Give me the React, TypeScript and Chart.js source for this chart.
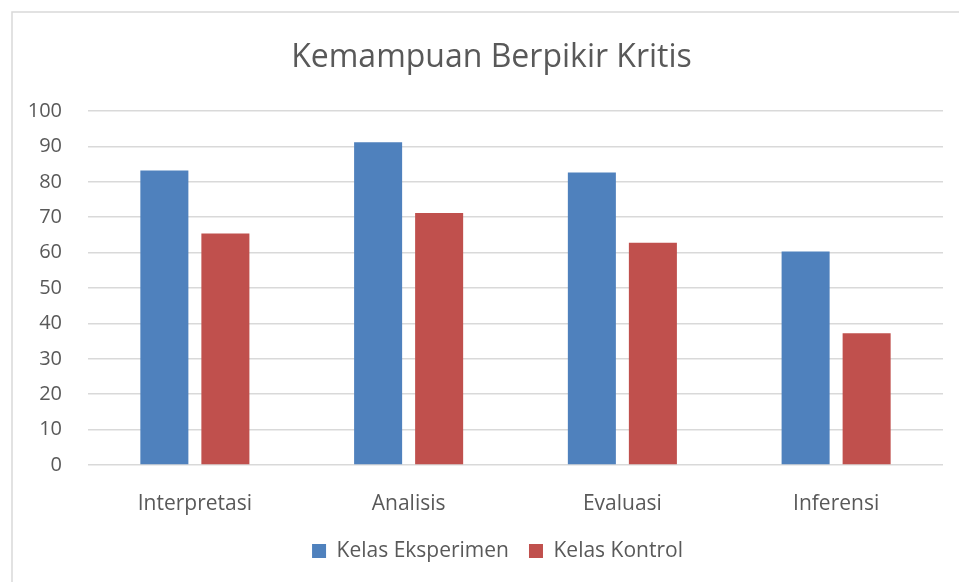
import React, { useEffect, useRef } from "react";
import { Chart, registerables } from "chart.js";

Chart.register(...registerables);

const categories = ["Interpretasi", "Analisis", "Evaluasi", "Inferensi"];
const kelasEksperimen = [83.2, 91.2, 82.6, 60.3];
const kelasKontrol = [65.4, 71.2, 62.8, 37.2];
const seriesNames = ["Kelas Eksperimen", "Kelas Kontrol"];
const chartTitle = "Kemampuan Berpikir Kritis";

const FONT = "'Open Sans', 'Noto Sans', sans-serif";
const GRAY = "#595959";

const borderPlugin = {
  id: "outerBorder",
  beforeDraw(chart: any) {
    const ctx = chart.ctx;
    ctx.save();
    ctx.fillStyle = "#ffffff";
    ctx.fillRect(0, 0, chart.width, chart.height);
    ctx.strokeStyle = "#D9D9D9";
    ctx.lineWidth = 1.5;
    ctx.beginPath();
    ctx.moveTo(12, chart.height);
    ctx.lineTo(12, 12);
    ctx.lineTo(chart.width, 12);
    ctx.stroke();
    ctx.restore();
  },
};

// the original chart frame extends past the right edge, so title and legend are centred a bit to the right
const shiftPlugin = {
  id: "shiftBoxes",
  afterLayout(chart: any) {
    if (chart.titleBlock) {
      chart.titleBlock.left += 14;
      chart.titleBlock.right += 14;
    }
    if (chart.legend) {
      chart.legend.left += 20;
      chart.legend.right += 20;
    }
  },
};

export default function App() {
  const ref = useRef<HTMLCanvasElement>(null);
  useEffect(() => {
    document.body.style.margin = "0";
    const chart = new Chart(ref.current!, {
      type: "bar",
      data: {
        labels: categories,
        datasets: [
          {
            label: seriesNames[0],
            data: kelasEksperimen,
            backgroundColor: "#4F81BD",
          },
          {
            label: seriesNames[1],
            data: kelasKontrol,
            backgroundColor: "#C0504D",
          },
        ],
      },
      options: {
        animation: false,
        responsive: false,
        devicePixelRatio: 1,
        layout: { padding: { top: 0, left: 12, right: 16, bottom: 10.5 } },
        datasets: {
          bar: { categoryPercentage: 0.571, barPercentage: 0.787 },
        },
        plugins: {
          title: {
            display: true,
            text: chartTitle,
            color: GRAY,
            font: { family: FONT, size: 32, weight: "normal", lineHeight: 1.2 },
            padding: { top: 38.8, bottom: 33.8 },
          },
          legend: {
            position: "bottom",
            labels: {
              color: GRAY,
              font: { family: FONT, size: 21 },
              boxWidth: 14,
              boxHeight: 14,
              padding: 20,
            },
          },
          tooltip: { enabled: false },
        },
        scales: {
          x: {
            grid: { display: false },
            border: { display: false },
            ticks: {
              color: GRAY,
              font: { family: FONT, size: 21 },
              padding: 18.4,
            },
            afterFit: (s: any) => {
              s.height = 55.5;
            },
          },
          y: {
            min: 0,
            max: 100,
            grid: { color: "#D9D9D9", lineWidth: 1.5, drawTicks: false },
            border: { display: false },
            ticks: {
              stepSize: 10,
              color: GRAY,
              font: { family: FONT, size: 20 },
              padding: 26,
            },
            afterFit: (s: any) => {
              s.width = 76;
            },
          },
        },
      },
      plugins: [borderPlugin, shiftPlugin],
    });
    return () => chart.destroy();
  }, []);
  return (
    <div style={{ width: 959, height: 582 }}>
      <canvas ref={ref} width={959} height={582} />
    </div>
  );
}
